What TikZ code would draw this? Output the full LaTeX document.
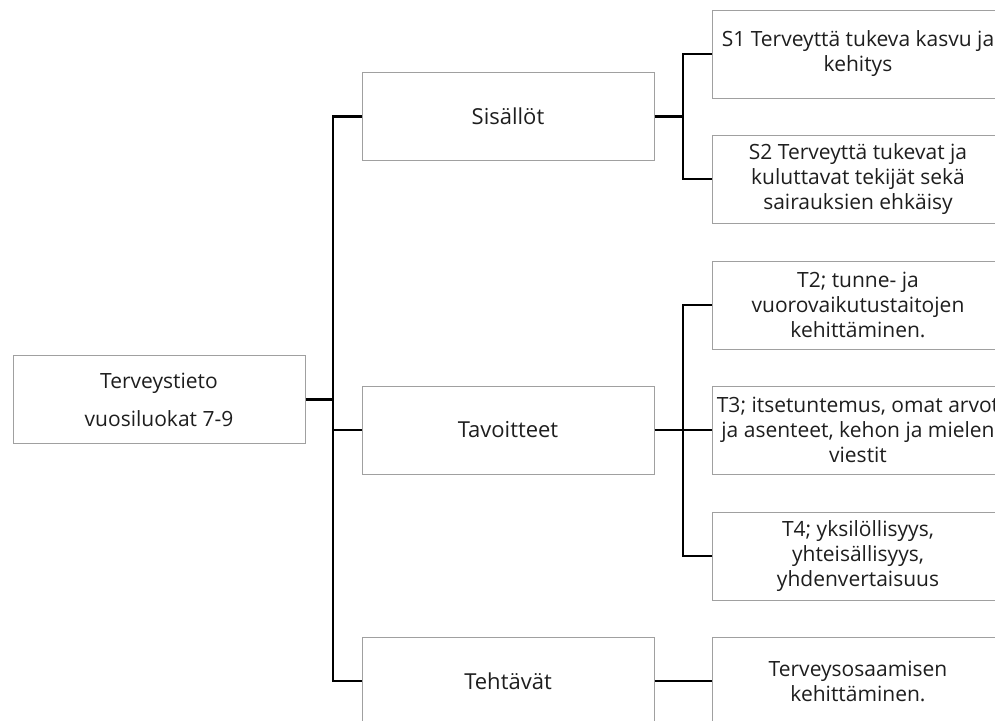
\documentclass[tikz,border=0pt]{standalone}
\usepackage{fontspec}
\setmainfont{Open Sans}
\usetikzlibrary{positioning}
\definecolor{boxline}{RGB}{160,160,160}
\definecolor{boxtext}{RGB}{30,30,30}

\begin{document}
\begin{tikzpicture}[
    x=1pt, y=-1pt,
    box/.style={draw=boxline, line width=1pt, text=boxtext, minimum width=292pt, minimum height=88pt, inner sep=0pt, align=center, font=\fontsize{21}{25}\selectfont},
    mainbox/.style={box, font=\fontsize{22}{26}\selectfont},
    link/.style={line width=2.2pt}
]
    \clip (0,0) rectangle (995,720);
    \useasboundingbox (0,0) rectangle (995,720);

    \node[box, font=\fontsize{21}{38}\selectfont] (root) at (159,399.5) {Terveystieto\\vuosiluokat 7-9};

    \node[mainbox] (sis) at (508,116.5) {Sisällöt};
    \node[mainbox] (tav) at (508,430) {Tavoitteet};
    \node[mainbox] (teh) at (508,681) {Tehtävät};

    \node[box] (s1) at (858,54) {S1 Terveyttä tukeva kasvu ja\\kehitys};
    \node[box] (s2) at (858,179) {S2 Terveyttä tukevat ja\\kuluttavat tekijät sekä\\sairauksien ehkäisy};
    \node[box] (t2) at (858,305) {T2; tunne- ja\\vuorovaikutustaitojen\\kehittäminen.};
    \node[box] (t3) at (858,430) {T3; itsetuntemus, omat arvot\\ja asenteet, kehon ja mielen\\viestit};
    \node[box] (t4) at (858,556) {T4; yksilöllisyys,\\yhteisällisyys,\\yhdenvertaisuus};
    \node[box] (tos) at (858,681) {Terveysosaamisen\\kehittäminen.};

    \coordinate (trunk) at (333,399.5);
    \coordinate (sisfork) at (683,116.5);
    \coordinate (tavfork) at (683,430);

    \draw[link] (root.east) -- (trunk);
    \draw[link] (trunk) |- (sis.west);
    \draw[link] (trunk) |- (tav.west);
    \draw[link] (trunk) |- (teh.west);

    \draw[link] (sis.east) -- (sisfork);
    \draw[link] (sisfork) |- (s1.west);
    \draw[link] (sisfork) |- (s2.west);

    \draw[link] (tav.east) -- (tavfork);
    \draw[link] (tavfork) |- (t2.west);
    \draw[link] (tavfork) -- (t3.west);
    \draw[link] (tavfork) |- (t4.west);

    \draw[link] (teh.east) -- (tos.west);
\end{tikzpicture}
\end{document}
